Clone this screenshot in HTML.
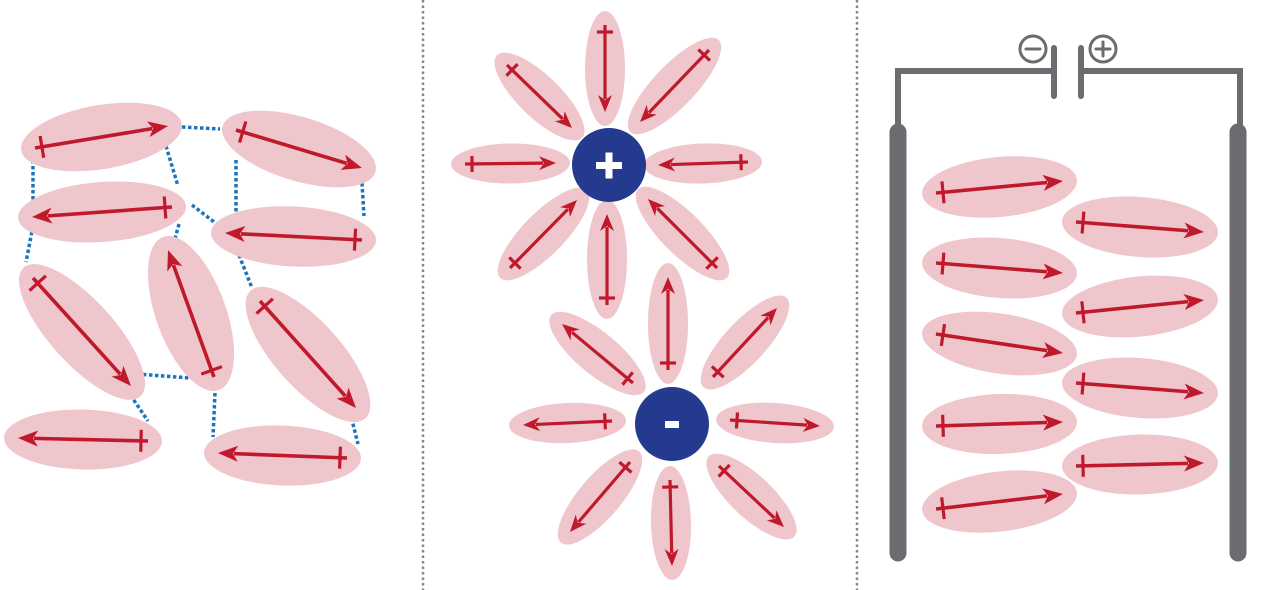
<!DOCTYPE html>
<html><head><meta charset="utf-8"><style>
html,body{margin:0;padding:0;background:#fff;}
svg{display:block;}
</style></head><body>
<svg id="fig" width="1280" height="590" viewBox="0 0 1280 590" xmlns="http://www.w3.org/2000/svg">
<g id="links" stroke="#1b75bc" stroke-width="3.5" stroke-dasharray="3.5 2.5" fill="none"></g>
<line x1="423" y1="0" x2="423" y2="590" stroke="#888" stroke-width="2.5" stroke-dasharray="2.5 3"/>
<line x1="857" y1="0" x2="857" y2="590" stroke="#888" stroke-width="2.5" stroke-dasharray="2.5 3"/>
<g id="circuit" stroke="#6b6c70" fill="none" stroke-linecap="round">
 <polyline points="898,130 898,71 1054,71" stroke-width="6" stroke-linecap="butt"/>
 <polyline points="1081,71 1240,71 1240,130" stroke-width="6" stroke-linecap="butt"/>
 <line x1="898" y1="132" x2="898" y2="553" stroke-width="17"/>
 <line x1="1238" y1="132" x2="1238" y2="553" stroke-width="17"/>
 <line x1="1054" y1="48" x2="1054" y2="96" stroke-width="6"/>
 <line x1="1081" y1="48" x2="1081" y2="96" stroke-width="6"/>
 <g stroke-width="3"><circle cx="1033" cy="49" r="13"/><line x1="1026" y1="49" x2="1040" y2="49"/></g>
 <g stroke-width="3"><circle cx="1103" cy="49" r="13"/><line x1="1096" y1="49" x2="1110" y2="49"/><line x1="1103" y1="42" x2="1103" y2="56"/></g>
</g>
<g id="dipoles"></g>
<g>
 <circle cx="609" cy="165" r="37" fill="#233a8f"/>
 <rect x="596" y="162" width="26" height="7" fill="#fff"/><rect x="605.5" y="152.5" width="7" height="26" fill="#fff"/>
</g>
<g>
 <circle cx="672" cy="424" r="37" fill="#233a8f"/>
 <rect x="665" y="421" width="14" height="7" fill="#fff"/>
</g>
</svg>
<script>
// dipoles: [tailX, tailY, headX, headY, halfWidth]
const leftDipoles=[[35,148,168,126,32],[236,130,362,168,32],[172,207,32,217,30],[362,240,225,233,30],[33,278,131,386,32],[214,377,168,250,35],[260,301,356,408,33],[148,441,18,438,30],[347,458,218,453,30]];
const plusPetals=[[605,25,605,112,20],[748,162,658,165,20],[465,164,556,163,20],[507,65,572,128,21],[709,50,640,122,21],[510,268,577,200,21],[717,268,648,199,21],[607,305,607,214,20]];
const minusPetals=[[668,370,668,277,20],[633,383,562,324,21],[713,377,777,308,21],[612,421,523,425,20],[730,420,820,426,20],[630,462,570,532,21],[719,466,784,527,21],[670,480,672,566,20]];
const capDipoles=[[936,193,1063,181,30],[936,263,1063,273,30],[936,334,1063,353,30],[936,426,1063,422,30],[936,509,1063,494,30],[1076,222,1204,232,30],[1076,313,1204,300,30],[1076,383,1204,393,30],[1076,466,1204,463,30]];
const links=[[182,127,220,129],[166,146,178,186],[33,160,33,208],[362,183,364,216],[236,160,236,215],[192,205,222,228],[33,226,26,262],[179,224,173,246],[239,255,252,288],[137,374,190,378],[127,390,148,421],[215,393,213,437],[350,412,358,444]];
const NS='http://www.w3.org/2000/svg';
const dg=document.getElementById('dipoles'),lg=document.getElementById('links');
function mk(t,a,p){const e=document.createElementNS(NS,t);for(const k in a)e.setAttribute(k,a[k]);p.appendChild(e);return e;}
links.forEach(l=>{const e=mk('line',{x1:l[0],y1:l[1],x2:l[2],y2:l[3]},lg);

});
function dipole(d,name){
 const [tx,ty,hx,hy,ry]=d;const dx=hx-tx,dy=hy-ty,L=Math.hypot(dx,dy),ux=dx/L,uy=dy/L,px=-uy,py=ux;
 const g=mk('g',{},dg);
 
 
 const cx=(tx+hx)/2,cy=(ty+hy)/2,ang=Math.atan2(dy,dx)*180/Math.PI;
 mk('ellipse',{cx:cx,cy:cy,rx:L/2+14,ry:ry,transform:`rotate(${ang} ${cx} ${cy})`,fill:'#efc6cb'},g);
 const big=ry>25,al=big?18:15,aw=big?8:7,bx=hx-ux*al,by=hy-uy*al;
 mk('line',{x1:tx,y1:ty,x2:bx+ux*2,y2:by+uy*2,stroke:'#c0192c','stroke-width':big?3.6:3.2},g);
 mk('polygon',{points:`${hx},${hy} ${bx+px*aw-ux*2},${by+py*aw-uy*2} ${bx+ux*3},${by+uy*3} ${bx-px*aw-ux*2},${by-py*aw-uy*2}`,fill:'#c0192c'},g);
 const mx=tx+ux*7,my=ty+uy*7,tk=big?11:8;
 mk('line',{x1:mx+px*tk,y1:my+py*tk,x2:mx-px*tk,y2:my-py*tk,stroke:'#c0192c','stroke-width':3.2},g);
}
leftDipoles.forEach(d=>dipole(d,'liquid-dipole'));
plusPetals.forEach(d=>dipole(d,'cation-hydration-dipole'));
minusPetals.forEach(d=>dipole(d,'anion-hydration-dipole'));
capDipoles.forEach(d=>dipole(d,'aligned-dipole'));
</script>
</body></html>
